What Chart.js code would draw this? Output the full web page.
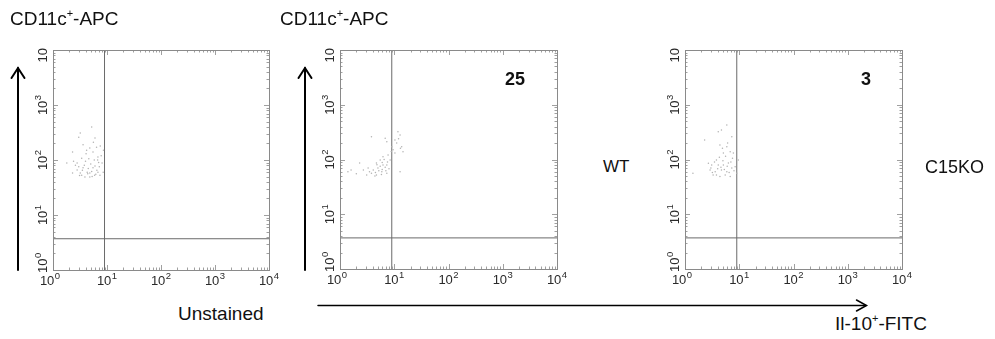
<!DOCTYPE html>
<html><head><meta charset="utf-8">
<script src="https://cdn.jsdelivr.net/npm/chart.js@4"></script>
<style>
html,body{margin:0;padding:0;background:#fff;width:995px;height:339px;overflow:hidden;font-family:"Liberation Sans",Arial,sans-serif;}
canvas{position:absolute;top:0;}
.t{position:absolute;color:#111;font-size:18px;white-space:nowrap;line-height:1;}
.t sup{font-size:11px;vertical-align:top;position:relative;top:-1px;}
svg{position:absolute;left:0;top:0;pointer-events:none;}
</style></head><body>
<canvas id="c1" width="290" height="300" style="left:0px"></canvas>
<canvas id="c2" width="290" height="300" style="left:290px"></canvas>
<canvas id="c3" width="290" height="300" style="left:640px"></canvas>

<div class="t" style="left:10px;top:9px;font-size:19px">CD11c<sup>+</sup>-APC</div>
<div class="t" style="left:280px;top:9px;font-size:19px">CD11c<sup>+</sup>-APC</div>
<div class="t" style="left:178px;top:304px;font-size:19px">Unstained</div>
<div class="t" style="left:603px;top:158px;font-size:17px">WT</div>
<div class="t" style="left:925px;top:158px">C15KO</div>
<div class="t" style="left:835px;top:314px;font-size:19px">Il-10<sup>+</sup>-FITC</div>
<div class="t" style="left:505px;top:70px;font-weight:bold">25</div>
<div class="t" style="left:861px;top:70px;font-weight:bold">3</div>

<svg width="995" height="339">
 <g stroke="#000" fill="none" stroke-linecap="round" stroke-linejoin="miter">
  <line x1="18" y1="270" x2="18" y2="68" stroke-width="2"/>
  <polyline points="11.5,78 18,68 24.5,78" stroke-width="2"/>
  <line x1="305" y1="270" x2="305" y2="68" stroke-width="2"/>
  <polyline points="298.5,78 305,68 311.5,78" stroke-width="2"/>
  <line x1="318" y1="305.5" x2="866" y2="305.5" stroke-width="1.5"/>
  <polyline points="856.5,300 866.5,305.5 856.5,311" stroke-width="1.5"/>
 </g>
</svg>

<script>
// ---- data ----
const axisMin = 1;
const axisMax = 10000;
const tickValues = [1, 10, 100, 1000, 10000];
const xTickExponents = ['0', '1', '2', '3', '4'];
const yTickExponents = ['0', '1', '2', '3', ''];
const gateX = 9;
const gateY = 3.7;

const unstainedPoints = [
  [5.2,400],[3.2,310],[3.6,190],[4.2,150],[4.8,165],[5.5,140],[2.3,140],[6.4,170],[6.8,113],
  [1.8,88],[2.8,88],[3.4,108],[3.6,72],[4.3,60],[4.8,58],[3.2,58],[2.8,66],[5.5,72],[6.8,60],
  [8.1,88],[7.4,53],[3.9,49],[4.8,49],[3.4,53],[5.9,53],[2.3,58],
  [3.0,75],[3.8,80],[4.5,70],[5.0,85],[6.0,78],[7.0,90],[6.5,65],[5.2,62],[4.0,95],[3.5,65],
  [4.6,105],[5.8,100],[7.8,120],[8.5,60],[2.6,80],[3.1,52],[6.2,55],[7.2,75],[4.1,130],
  [5.6,210],[6.0,250],[3.0,260],[7.5,180],[8.6,150],[2.4,95],[4.4,56],[5.3,50],[6.7,100]
];
const wtPoints = [
  [3.8,260],[6.8,245],[7.3,210],[11.7,320],[12.8,280],[10.3,227],[11.1,200],[9,171],[13.7,171],
  [14.5,139],[10.3,131],[7.7,121],[6.2,112],[5.5,98],[4.7,86],[6.2,79],[5.0,70],[4.1,64],[3.3,70],
  [2.7,64],[2.3,86],[1.6,64],[1.4,60],[3.1,52],[4.7,52],[7.3,56],[12.8,60],[5.9,60],[3.8,56],
  [7.3,79],[8.4,98],[1.0,52],
  [4.5,58],[5.2,62],[6.0,66],[6.8,72],[5.5,75],[4.8,80],[7.5,90],[6.5,100],[4.4,50],[5.8,53],
  [7.0,62],[8.0,68],[3.5,60],[2.0,55],[9.5,150],[12,240],[13,160],[8.8,140],[6.0,88]
];
const c15koPoints = [
  [5.9,425],[4.7,345],[4.1,320],[7.3,260],[2.3,227],[4.4,184],[5.9,171],[6.8,139],[5.1,131],
  [7.8,131],[9.6,98],[3.8,98],[3.1,79],[4.1,79],[5.1,79],[6.3,86],[2.9,64],[3.6,60],[4.7,64],
  [5.9,60],[7.3,70],[8.4,74],[3.3,52],[4.4,49],[5.5,52],[6.8,49],[1.4,56],[9.0,56],
  [3.0,70],[3.5,90],[4.0,68],[4.6,72],[5.3,66],[6.0,75],[5.0,95],[4.3,110],[6.5,58],[7.0,90],
  [3.2,58],[2.7,85],[5.6,115],[6.1,200],[4.9,160],[7.5,105],[8.0,62],[3.8,52]
];

// ---- drawing ----
const FONT = '"Liberation Sans", Arial, sans-serif';
const axisPlugin = {
  id: 'flowAxes',
  afterDraw(chart) {
    const ctx = chart.ctx, a = chart.chartArea, xs = chart.scales.x, ys = chart.scales.y;
    ctx.save();
    ctx.strokeStyle = '#a0a0a0';
    ctx.lineWidth = 1;
    ctx.beginPath();
    for (let d = 0; d < 4; d++) {
      for (let m = 1; m <= 9; m++) {
        const v = Math.pow(10, d) * m;
        const len = m === 1 ? 5 : 2.5;
        const px = Math.round(xs.getPixelForValue(v)) + 0.5;
        const py = Math.round(ys.getPixelForValue(v)) + 0.5;
        ctx.moveTo(px, a.bottom); ctx.lineTo(px, a.bottom - len);
        ctx.moveTo(px, a.top); ctx.lineTo(px, a.top + len);
        ctx.moveTo(a.left, py); ctx.lineTo(a.left + len, py);
        ctx.moveTo(a.right, py); ctx.lineTo(a.right - len, py);
      }
    }
    ctx.stroke();
    ctx.strokeStyle = '#8a8a8a';
    ctx.strokeRect(Math.round(a.left) + 0.5, Math.round(a.top) + 0.5,
                   Math.round(a.right - a.left), Math.round(a.bottom - a.top));
    ctx.fillStyle = '#2a2a2a';
    const baseFont = '13px ' + FONT, expFont = '9.5px ' + FONT;
    function label(base, exp) {
      ctx.font = baseFont; const w1 = ctx.measureText(base).width;
      ctx.font = expFont; const w2 = exp ? ctx.measureText(exp).width + 0.5 : 0;
      return { w1, w2, w: w1 + w2 };
    }
    function drawLabel(base, exp, x0, y0) {
      const m = label(base, exp);
      ctx.font = baseFont; ctx.textAlign = 'left'; ctx.textBaseline = 'alphabetic';
      ctx.fillText(base, x0, y0);
      if (exp) { ctx.font = expFont; ctx.fillText(exp, x0 + m.w1 + 0.5, y0 - 6); }
    }
    tickValues.forEach((v, i) => {
      const m = label('10', xTickExponents[i]);
      const px = xs.getPixelForValue(v);
      drawLabel('10', xTickExponents[i], px - m.w / 2 - (i === 0 ? 3 : 0), a.bottom + 15);
    });
    tickValues.forEach((v, i) => {
      const m = label('10', yTickExponents[i]);
      const py = ys.getPixelForValue(v);
      ctx.save();
      ctx.translate(a.left - 6, 0);
      ctx.rotate(-Math.PI / 2);
      let start;
      if (i === 0) start = -(a.bottom + 3);
      else if (i === tickValues.length - 1) start = -(a.top - 2) - m.w;
      else start = -py - m.w / 2;
      drawLabel('10', yTickExponents[i], start, 0);
      ctx.restore();
    });
    ctx.restore();
  }
};

function makeChart(id, pts, pad) {
  return new Chart(document.getElementById(id), {
    type: 'scatter',
    data: {
      datasets: [
        { data: pts.map(p => ({ x: p[0], y: p[1] })), pointRadius: 0.75, pointBackgroundColor: '#b2b2b2',
          pointBorderWidth: 0, borderWidth: 0 },
        { data: [{ x: gateX, y: axisMin }, { x: gateX, y: axisMax }], showLine: true,
          borderColor: '#6a6a6a', borderWidth: 1, pointRadius: 0 },
        { data: [{ x: axisMin, y: gateY }, { x: axisMax, y: gateY }], showLine: true,
          borderColor: '#6a6a6a', borderWidth: 1, pointRadius: 0 }
      ]
    },
    options: {
      responsive: false, animation: false, devicePixelRatio: 1,
      layout: { padding: pad },
      plugins: { legend: { display: false }, tooltip: { enabled: false } },
      scales: {
        x: { type: 'logarithmic', min: axisMin, max: axisMax, display: false },
        y: { type: 'logarithmic', min: axisMin, max: axisMax, display: false }
      }
    },
    plugins: [axisPlugin]
  });
}

makeChart('c1', unstainedPoints, { left: 53, top: 50, right: 21, bottom: 30 });
makeChart('c2', wtPoints, { left: 50, top: 50, right: 23, bottom: 31 });
makeChart('c3', c15koPoints, { left: 45, top: 50, right: 28, bottom: 31 });
</script>
</body></html>
